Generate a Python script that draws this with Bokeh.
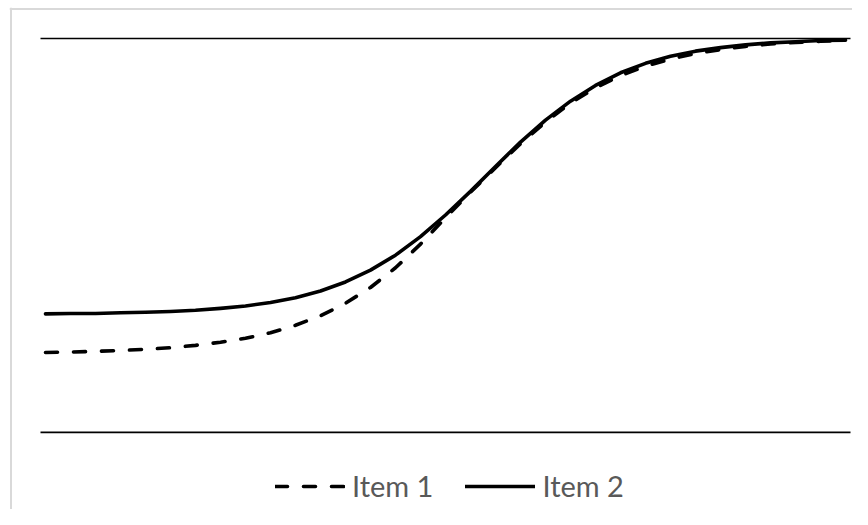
from bokeh.plotting import figure
from bokeh.models import Range1d, Legend, LegendItem, Span
from bokeh.embed import file_html
from bokeh.resources import INLINE

theta = [-4.0, -3.75, -3.5, -3.25, -3.0, -2.75, -2.5, -2.25, -2.0, -1.75, -1.5, -1.25,
         -1.0, -0.75, -0.5, -0.25, 0.0, 0.25, 0.5, 0.75, 1.0, 1.25, 1.5, 1.75,
         2.0, 2.25, 2.5, 2.75, 3.0, 3.25, 3.5, 3.75, 4.0]

item1 = [0.203, 0.204, 0.206, 0.208, 0.211, 0.215, 0.221, 0.229, 0.239, 0.253, 0.272, 0.296,
         0.328, 0.368, 0.418, 0.478, 0.545, 0.610, 0.672, 0.733, 0.788, 0.836, 0.875, 0.906,
         0.930, 0.948, 0.962, 0.972, 0.980, 0.986, 0.990, 0.993, 0.995]

item2 = [0.301, 0.302, 0.302, 0.304, 0.305, 0.307, 0.310, 0.315, 0.321, 0.330, 0.342, 0.359,
         0.382, 0.412, 0.450, 0.497, 0.552, 0.612, 0.675, 0.737, 0.793, 0.841, 0.881, 0.913,
         0.937, 0.955, 0.968, 0.977, 0.984, 0.989, 0.992, 0.995, 0.996]

grid_levels = [0, 1]
series_names = ["Item 1", "Item 2"]

p = figure(width=852, height=509, output_backend="svg", toolbar_location=None,
           x_axis_location=None, y_axis_location=None,
           x_range=Range1d(-4.36, 4.07), y_range=Range1d(-0.1957, 1.0788),
           min_border_left=9, min_border_top=7, min_border_right=0, min_border_bottom=0)
p.grid.visible = False
p.outline_line_color = None
p.background_fill_color = "white"
p.border_fill_color = "white"

# chart-area border (left and top edges visible in the reference)
p.add_layout(Span(location=-4.345, dimension="height", line_color="#D9D9D9", line_width=2))
p.add_layout(Span(location=1.075, dimension="width", line_color="#D9D9D9", line_width=2))

# horizontal gridlines at 0 and 1
x_lo = theta[0] - 0.05
x_hi = theta[-1] + 0.05
p.segment(x0=[x_lo] * len(grid_levels), x1=[x_hi] * len(grid_levels),
          y0=grid_levels, y1=grid_levels, line_color="black", line_width=1.6)

r1 = p.line(theta, item1, line_color="black", line_width=3.6, line_dash="12 16",
            line_cap="round", line_join="round")
r2 = p.line(theta, item2, line_color="black", line_width=3.6, line_cap="round",
            line_join="round")

legend = Legend(items=[LegendItem(label=series_names[0], renderers=[r1]),
                       LegendItem(label=series_names[1], renderers=[r2])],
                orientation="horizontal", location=(266, 6),
                glyph_width=70, glyph_height=30, label_height=30,
                label_standoff=7, spacing=32, padding=0, margin=0,
                label_text_font="Lato", label_text_font_size="29px",
                label_text_color="#595959",
                background_fill_alpha=0, border_line_alpha=0)
p.add_layout(legend, "center")

open("out.html", "w").write(file_html(p, INLINE))
